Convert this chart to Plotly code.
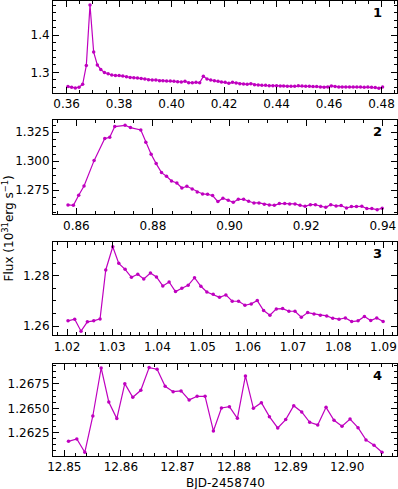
import plotly.graph_objects as go

# segment 1
t1 = [0.3605, 0.3619, 0.3633, 0.3647, 0.3661, 0.3675, 0.3689, 0.3703, 0.3717, 0.3730,
      0.3744, 0.3758, 0.3772, 0.3786, 0.3800, 0.3814, 0.3828, 0.3842, 0.3856, 0.3870,
      0.3884, 0.3898, 0.3912, 0.3926, 0.3940, 0.3954, 0.3967, 0.3981, 0.3995, 0.4009,
      0.4023, 0.4037, 0.4051, 0.4065, 0.4079, 0.4093, 0.4107, 0.4121, 0.4135, 0.4149,
      0.4163, 0.4177, 0.4190, 0.4204, 0.4218, 0.4232, 0.4246, 0.4260, 0.4274, 0.4288,
      0.4302, 0.4316, 0.4330, 0.4344, 0.4358, 0.4372, 0.4386, 0.4400, 0.4414, 0.4427,
      0.4441, 0.4455, 0.4469, 0.4483, 0.4497, 0.4511, 0.4525, 0.4539, 0.4553, 0.4567,
      0.4581, 0.4595, 0.4609, 0.4623, 0.4637, 0.4650, 0.4664, 0.4678, 0.4692, 0.4706,
      0.4720, 0.4734, 0.4748, 0.4762, 0.4776, 0.4790, 0.4804]
f1 = [1.2619, 1.2601, 1.2584, 1.2601, 1.2681, 1.3185, 1.4812, 1.3547, 1.3202, 1.3079,
      1.2999, 1.2964, 1.2928, 1.2920, 1.2920, 1.2902, 1.2884, 1.2867, 1.2858, 1.2849,
      1.2840, 1.2822, 1.2805, 1.2796, 1.2796, 1.2778, 1.2778, 1.2769, 1.2769, 1.2760,
      1.2751, 1.2743, 1.2760, 1.2725, 1.2725, 1.2734, 1.2725, 1.2894, 1.2822, 1.2796,
      1.2778, 1.2760, 1.2743, 1.2734, 1.2707, 1.2734, 1.2716, 1.2698, 1.2690, 1.2681,
      1.2698, 1.2672, 1.2663, 1.2654, 1.2654, 1.2645, 1.2645, 1.2645, 1.2637, 1.2637,
      1.2628, 1.2628, 1.2628, 1.2645, 1.2637, 1.2628, 1.2628, 1.2619, 1.2619, 1.2610,
      1.2601, 1.2610, 1.2637, 1.2619, 1.2610, 1.2610, 1.2610, 1.2610, 1.2610, 1.2610,
      1.2610, 1.2601, 1.2610, 1.2601, 1.2592, 1.2575, 1.2610]

# segment 2
t2 = [0.85782, 0.85922, 0.86061, 0.86200, 0.86462, 0.86741, 0.86871, 0.87002, 0.87272, 0.87412,
      0.87682, 0.87813, 0.87952, 0.88083, 0.88222, 0.88353, 0.88484, 0.88623, 0.88754, 0.88885,
      0.89024, 0.89155, 0.89294, 0.89425, 0.89556, 0.89695, 0.89826, 0.89965, 0.90096, 0.90227,
      0.90366, 0.90497, 0.90636, 0.90767, 0.90907, 0.91037, 0.91168, 0.91299, 0.91438, 0.91569,
      0.91708, 0.91839, 0.91970, 0.92109, 0.92240, 0.92380, 0.92510, 0.92641, 0.92780, 0.92911,
      0.93051, 0.93181, 0.93312, 0.93452, 0.93582, 0.93713, 0.93852, 0.93983]
f2 = [1.26236, 1.26207, 1.27069, 1.27874, 1.30057, 1.31954, 1.32069, 1.32989, 1.33103, 1.32902,
      1.32701, 1.31638, 1.30603, 1.29799, 1.29023, 1.28707, 1.28305, 1.28132, 1.27701, 1.27845,
      1.27615, 1.27356, 1.27184, 1.27155, 1.27040, 1.26523, 1.26810, 1.26638, 1.26466, 1.26724,
      1.26724, 1.26552, 1.26408, 1.26408, 1.26293, 1.26236, 1.26207, 1.26351, 1.26351, 1.26322,
      1.26322, 1.26207, 1.26121, 1.26264, 1.26264, 1.26121, 1.26034, 1.26264, 1.26149, 1.26178,
      1.25977, 1.26092, 1.26092, 1.26121, 1.25920, 1.25920, 1.25833, 1.25948]

# segment 3
t3 = [1.02022, 1.02170, 1.02310, 1.02450, 1.02591, 1.02731, 1.02857, 1.03012, 1.03145, 1.03285,
      1.03425, 1.03565, 1.03698, 1.03846, 1.03979, 1.04119, 1.04259, 1.04400, 1.04540, 1.04680,
      1.04821, 1.04961, 1.05094, 1.05234, 1.05374, 1.05515, 1.05655, 1.05795, 1.05936, 1.06076,
      1.06209, 1.06349, 1.06489, 1.06630, 1.06770, 1.06910, 1.07043, 1.07183, 1.07324, 1.07464,
      1.07604, 1.07745, 1.07878, 1.08018, 1.08158, 1.08298, 1.08439, 1.08579, 1.08719, 1.08852,
      1.08993]
f3 = [1.26211, 1.26276, 1.25803, 1.26171, 1.26211, 1.26289, 1.28224, 1.29145, 1.28487, 1.28250,
      1.27934, 1.28053, 1.27868, 1.28105, 1.27947, 1.27592, 1.27750, 1.27368, 1.27500, 1.27618,
      1.27921, 1.27579, 1.27355, 1.27263, 1.27145, 1.27237, 1.26987, 1.26987, 1.26829, 1.26882,
      1.27013, 1.26618, 1.26434, 1.26684, 1.26697, 1.26592, 1.26592, 1.26355, 1.26539, 1.26487,
      1.26434, 1.26408, 1.26316, 1.26276, 1.26329, 1.26184, 1.26211, 1.26382, 1.26224, 1.26329,
      1.26184]

# segment 4
t4 = [12.85074, 12.85221, 12.85362, 12.85504, 12.85651, 12.85786, 12.85928, 12.86069, 12.86210, 12.86352,
      12.86499, 12.86640, 12.86782, 12.86923, 12.87064, 12.87206, 12.87347, 12.87488, 12.87635, 12.87777,
      12.87918, 12.88059, 12.88201, 12.88342, 12.88483, 12.88625, 12.88772, 12.88913, 12.89055, 12.89196,
      12.89337, 12.89479, 12.89626, 12.89767, 12.89908, 12.90050, 12.90191, 12.90332, 12.90474, 12.90615]
f4 = [1.26161, 1.26185, 1.26048, 1.26421, 1.26914, 1.26565, 1.26394, 1.26753, 1.26613, 1.26685,
      1.26918, 1.26901, 1.26726, 1.26671, 1.26678, 1.26586, 1.26623, 1.26623, 1.26267, 1.26503,
      1.26517, 1.26397, 1.26832, 1.26500, 1.26558, 1.26414, 1.26298, 1.26384, 1.26527, 1.26462,
      1.26356, 1.26329, 1.26510, 1.26377, 1.26315, 1.26390, 1.26301, 1.26175, 1.26120, 1.26048]

panel_labels = ["1", "2", "3", "4"]

color = "#BF00BF"
font = dict(family="DejaVu Sans", size=12, color="black")

fig = go.Figure()
for i, (t, f) in enumerate([(t1, f1), (t2, f2), (t3, f3), (t4, f4)]):
    n = "" if i == 0 else str(i + 1)
    fig.add_trace(go.Scatter(x=t, y=f, mode="lines+markers",
                             line=dict(color=color, width=1.2),
                             marker=dict(color=color, size=3.5, symbol="circle"),
                             xaxis="x" + n, yaxis="y" + n, showlegend=False,
                             cliponaxis=False))

# axis settings per panel: domain, x range, x ticks, y range, y ticks
panels = [
    dict(dom=[0.7985, 1.0], xr=[0.3548, 0.4859], xt0=0.36, xd=0.02, xm=0.005, xf=".2f",
         yr=[1.2456, 1.4918], yt0=1.3, yd=0.1, ym=0.02, yf=".1f"),
    dict(dom=[0.5312, 0.7385], xr=[0.8539, 0.9437], xt0=0.86, xd=0.02, xm=0.005, xf=".2f",
         yr=[1.2543, 1.3356], yt0=1.275, yd=0.025, ym=0.00625, yf=".3f"),
    dict(dom=[0.2653, 0.4697], xr=[1.0169, 1.0930], xt0=1.02, xd=0.01, xm=0.002, xf=".2f",
         yr=[1.2564, 1.2932], yt0=1.26, yd=0.02, ym=0.005, yf=".2f"),
    dict(dom=[0.0, 0.2022], xr=[12.8480, 12.9088], xt0=12.85, xd=0.01, xm=0.002, xf=".2f",
         yr=[1.2601, 1.26955], yt0=1.2625, yd=0.0025, ym=0.000625, yf=".4f"),
]

layout = {}
for i, p in enumerate(panels):
    n = "" if i == 0 else str(i + 1)
    layout["xaxis" + n] = dict(
        domain=[0, 1], anchor="y" + n, range=p["xr"], tick0=p["xt0"], dtick=p["xd"],
        tickformat=p["xf"], showline=True, linecolor="black", linewidth=1, mirror="allticks",
        ticks="inside", ticklen=6, tickwidth=1, tickcolor="black", showgrid=False,
        zeroline=False, tickfont=font, automargin=False,
        minor=dict(ticks="inside", ticklen=3, tickwidth=1, tickcolor="black",
                   dtick=p["xm"], tick0=p["xt0"], showgrid=False))
    layout["yaxis" + n] = dict(
        domain=p["dom"], anchor="x" + n, range=p["yr"], tick0=p["yt0"], dtick=p["yd"],
        tickformat=p["yf"], showline=True, linecolor="black", linewidth=1, mirror="allticks",
        ticks="inside", ticklen=6, tickwidth=1, tickcolor="black", showgrid=False,
        zeroline=False, tickfont=font, automargin=False,
        minor=dict(ticks="inside", ticklen=3, tickwidth=1, tickcolor="black",
                   dtick=p["ym"], tick0=p["yt0"], showgrid=False))

annotations = []
for i, lab in enumerate(panel_labels):
    n = "" if i == 0 else str(i + 1)
    annotations.append(dict(text="<b>" + lab + "</b>", xref="x" + n + " domain",
                            yref="y" + n + " domain", x=0.961, y=0.875,
                            xanchor="right", yanchor="middle", showarrow=False,
                            font=dict(family="DejaVu Sans", size=13, color="black")))

annotations.append(dict(text="Flux (10<sup>31</sup>erg s<sup>\u22121</sup>)",
                        xref="paper", yref="paper", x=-0.131, y=0.5, textangle=-90,
                        xanchor="center", yanchor="middle", showarrow=False, font=font))
annotations.append(dict(text="BJD-2458740", xref="paper", yref="paper", x=0.5, y=-0.06,
                        xanchor="center", yanchor="middle", showarrow=False, font=font))

fig.update_layout(**layout)
fig.update_layout(annotations=annotations, width=398, height=489,
                  margin=dict(l=53, r=1, t=1, b=33),
                  plot_bgcolor="white", paper_bgcolor="white")

# drop the page's default body margin so the figure sits at the window corner
fig.write_html("out.html", config={"displayModeBar": False},
               post_script="document.body.style.margin='0';")
